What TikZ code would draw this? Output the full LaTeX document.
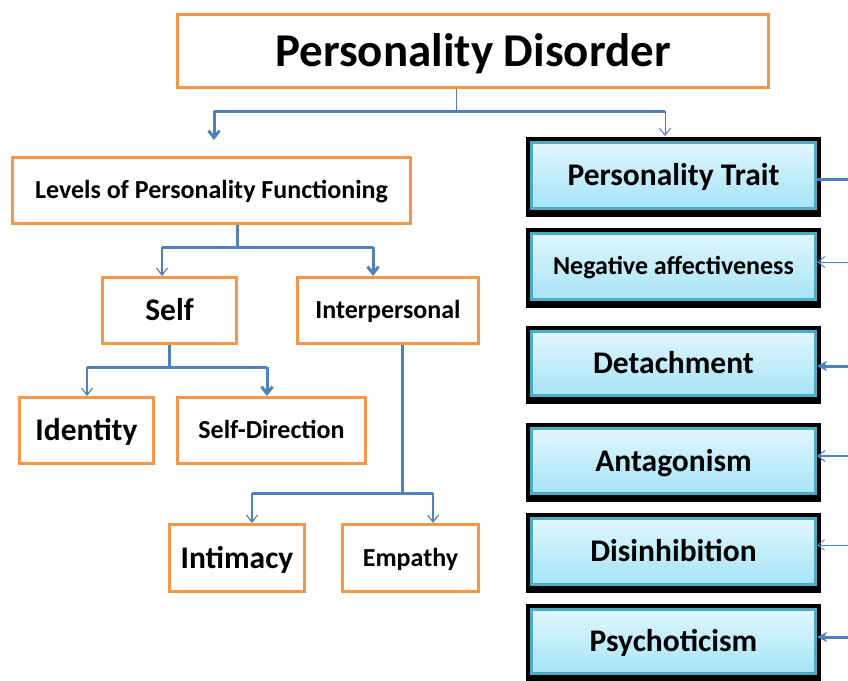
\documentclass[tikz,border=0pt]{standalone}
\usepackage{fontspec}
\setmainfont{Carlito}
\usetikzlibrary{arrows.meta}
\definecolor{ob}{HTML}{F79646}
\definecolor{lb}{HTML}{4F81BD}
\definecolor{tl}{HTML}{4BACC6}
\definecolor{gtop}{HTML}{E0F6FD}
\definecolor{gbot}{HTML}{A6E4F7}
\begin{document}
\begin{tikzpicture}[x=1pt,y=-1pt,
  obox/.style={draw=ob, line width=3pt, inner sep=0pt, align=center},
  tbox/.style={draw=tl, line width=3pt, top color=gtop, bottom color=gbot, minimum width=284pt, inner sep=0pt},
  fbig/.style={font=\fontsize{31.5}{34}\selectfont\bfseries, text height=20.3pt, text depth=0pt},
  fmid/.style={font=\fontsize{26}{30}\selectfont\bfseries, text height=16.7pt, text depth=0pt},
  fttl/.style={font=\fontsize{47}{52}\selectfont\bfseries, text height=30.3pt, text depth=0pt},
  thk/.style={draw=lb, line width=3pt},
  thn/.style={draw=lb, line width=1.2pt},
  bar/.style={-{Straight Barb[length=7pt,width=11pt]}},
  rbar/.style={{Straight Barb[length=7pt,width=11pt]}-},
  rstl/.style={{Stealth[length=10pt,width=10pt,inset=3pt]}-}]
\useasboundingbox (0,0) rectangle (848,680);
% left tree
\node[obox, fttl, minimum width=591pt, minimum height=73pt] (title) at (473,51) {Personality Disorder};
\node[obox, fmid, minimum width=398pt, minimum height=66pt] (lev) at (211.5,190.5) {Levels of Personality Functioning};
\node[obox, fbig, minimum width=134pt, minimum height=66pt] (self) at (169.5,310.5) {Self};
\node[obox, fmid, minimum width=181pt, minimum height=66pt] (inter) at (388,310.5) {Interpersonal};
\node[obox, fbig, minimum width=134pt, minimum height=66pt] (ident) at (86.5,430.5) {Identity};
\node[obox, fmid, minimum width=188pt, minimum height=66pt] (sdir) at (271.5,430.5) {Self-Direction};
\node[obox, fbig, minimum width=135pt, minimum height=67pt] (intim) at (237,558) {Intimacy};
\node[obox, fmid, minimum width=136pt, minimum height=67pt] (emp) at (410.5,558) {Empathy};
% right boxes
\newcommand{\trbox}[5]{%
  \fill[black] (526,#2) rectangle (821,#3);
  \node[tbox, #5, minimum height={#3-#2-14}] (#1) at (673.5,{(#2+#3)/2-1.5}) {#4};}
\trbox{trait}{137}{217}{Personality Trait}{fbig}
\trbox{neg}{228}{308}{Negative affectiveness}{fmid}
\trbox{det}{326}{404}{Detachment}{fbig}
\trbox{ant}{423}{502}{Antagonism}{fbig}
\trbox{dis}{513}{593}{Disinhibition}{fbig}
\trbox{psy}{604}{682}{Psychoticism}{fbig}
% connectors: title
\coordinate (j1) at (456,111);
\coordinate (j1l) at (214,111);
\coordinate (j1r) at (665,111);
\draw[draw=lb, line width=1pt] (title.south -| j1) -- (j1);
\draw[thk] (j1l) -- (j1r);
\draw[thk, bar, shorten >=16pt] (j1l) -- (j1l |- lev.north);
\draw[draw=lb, line width=1pt, bar, shorten >=5pt] (j1r) -- (j1r |- trait.north);
% levels
\coordinate (j2) at (237,247);
\coordinate (j2l) at (162,247);
\coordinate (j2r) at (373,247);
\draw[thk] (lev.south -| j2) -- (j2);
\draw[thk] (j2l) -- (j2r);
\draw[thn, bar] (j2l) -- (j2l |- self.north);
\draw[thk, bar] (j2r) -- (j2r |- inter.north);
% self
\coordinate (j3) at (169,367);
\coordinate (j3l) at (87,367);
\coordinate (j3r) at (267,367);
\draw[thk] (self.south -| j3) -- (j3);
\draw[thk] (j3l) -- (j3r);
\draw[thn, bar] (j3l) -- (j3l |- ident.north);
\draw[thk, bar] (j3r) -- (j3r |- sdir.north);
% interpersonal
\coordinate (j4) at (402,493);
\coordinate (j4l) at (252,493);
\coordinate (j4r) at (433,493);
\draw[thk] (inter.south -| j4) -- (j4);
\draw[thk] (j4l) -- (j4r);
\draw[thn, bar] (j4l) -- (j4l |- intim.north);
\draw[thn, bar] (j4r) -- (j4r |- emp.north);
% right side
\coordinate (eT) at (848,179);
\coordinate (eN) at (848,262);
\coordinate (eD) at (848,366);
\coordinate (eA) at (848,456);
\coordinate (eI) at (848,545);
\coordinate (eP) at (848,637);
\draw[thk] (trait.east |- eT) -- (eT);
\draw[draw=lb, line width=1pt, rbar] (neg.east |- eN) -- (eN);
\draw[thk, rstl] (det.east |- eD) -- (eD);
\draw[draw=lb, line width=1.2pt, rbar] (ant.east |- eA) -- (eA);
\draw[draw=lb, line width=0.8pt, rbar] (dis.east |- eI) -- (eI);
\draw[thk, rstl] (psy.east |- eP) -- (eP);
\end{tikzpicture}
\end{document}
